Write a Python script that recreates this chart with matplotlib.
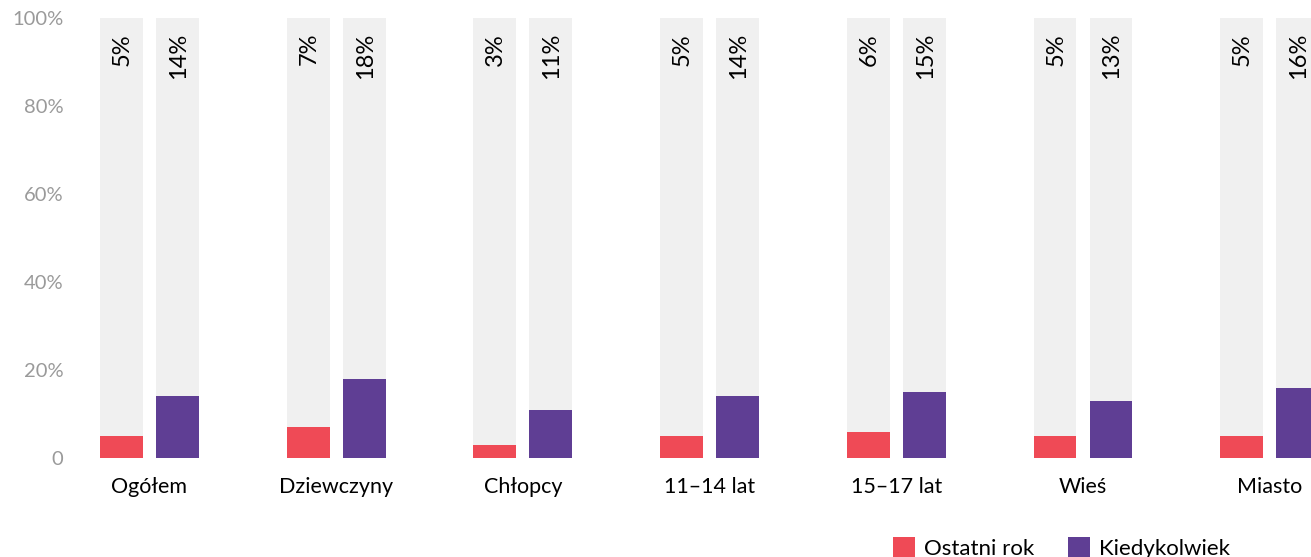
import matplotlib
matplotlib.use("Agg")
import matplotlib.pyplot as plt
from matplotlib.patches import Patch
import numpy as np

plt.rcParams['font.family'] = ['Lato', 'DejaVu Sans']

# Data
categories = ["Ogółem", "Dziewczyny", "Chłopcy", "11–14 lat", "15–17 lat", "Wieś", "Miasto"]
ostatni_rok = [5, 7, 3, 5, 6, 5, 5]
kiedykolwiek = [14, 18, 11, 14, 15, 13, 16]
series_names = ["Ostatni rok", "Kiedykolwiek"]
yticks = [0, 20, 40, 60, 80, 100]
ytick_labels = ["0", "20%", "40%", "60%", "80%", "100%"]

RED = "#EF4A56"
PURPLE = "#5F3E94"
BG = "#F0F0F0"

W, H = 1311, 557
fig = plt.figure(figsize=(W / 100, H / 100), dpi=100)
ax = fig.add_axes([80 / W, (H - 458) / H, 1 - 80 / W, 440 / H])

x = np.arange(len(categories))
off = 0.15
bw = 0.23

# background bars up to 100%
ax.bar(x - off, [100] * len(x), width=bw, color=BG, zorder=1)
ax.bar(x + off, [100] * len(x), width=bw, color=BG, zorder=1)
ax.bar(x - off, ostatni_rok, width=bw, color=RED, zorder=2)
ax.bar(x + off, kiedykolwiek, width=bw, color=PURPLE, zorder=2)

for xi, a, b in zip(x, ostatni_rok, kiedykolwiek):
    ax.text(xi - off + 0.005, 96.6, f"{a}%", rotation=90, ha='center', va='top',
            fontsize=17, color='black', zorder=3)
    ax.text(xi + off + 0.005, 96.6, f"{b}%", rotation=90, ha='center', va='top',
            fontsize=17, color='black', zorder=3)

ax.set_xlim(-(149.5 - 80) / 186.7, (W - 149.5) / 186.7)
ax.set_ylim(0, 100)
ax.set_yticks(yticks)
ax.set_yticklabels(ytick_labels, fontsize=14.5, color='#9a9a9a')
ax.set_xticks(x)
ax.set_xticklabels(categories, fontsize=15.5)
ax.tick_params(axis='y', length=0, pad=12)
ax.tick_params(axis='x', length=0, pad=14)
for s in ax.spines.values():
    s.set_visible(False)

handles = [Patch(facecolor=RED), Patch(facecolor=PURPLE)]
fig.legend(handles, series_names, loc='upper left',
           bbox_to_anchor=(893 / W, 1 - 537 / H), ncol=2, frameon=False,
           fontsize=16, handlelength=1.0, handleheight=1.0,
           handletextpad=0.4, columnspacing=1.5, borderpad=0, borderaxespad=0)

fig.savefig("out.png", dpi=100)
